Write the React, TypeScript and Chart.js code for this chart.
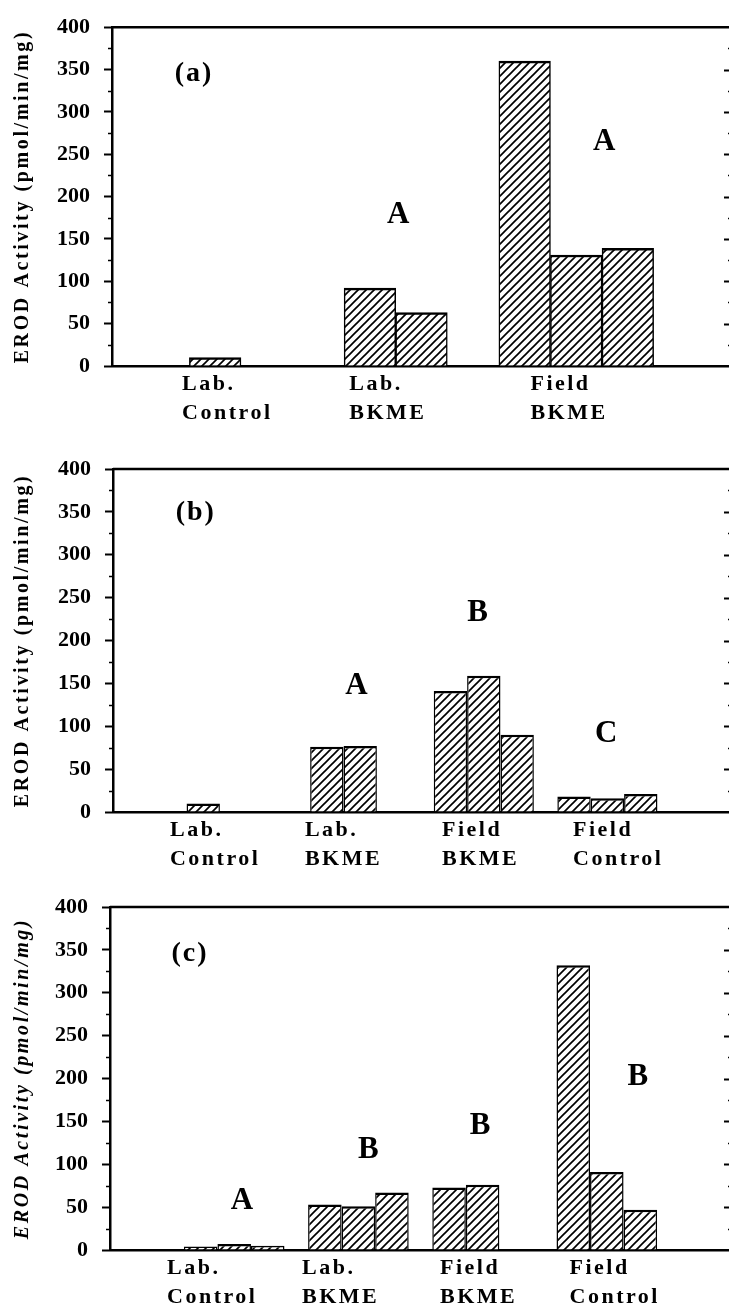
import React, { useEffect, useRef } from 'react';
import { Chart, registerables } from 'chart.js';

Chart.register(...registerables);

const FONT = "'Liberation Serif', 'Times New Roman', serif";
const Y_TITLE = 'EROD Activity (pmol/min/mg)';
const Y_MIN = 0;
const Y_MAX = 400;
const Y_STEP = 50;

// Panel (a)
const catsA: string[][] = [['Lab.', 'Control'], ['Lab.', 'BKME'], ['Field', 'BKME']];
const a1 = [10, 92, 360];
const a2 = [null, 63, 131];
const a3 = [null, null, 139];

// Panels (b) and (c)
const catsBC: string[][] = [['Lab.', 'Control'], ['Lab.', 'BKME'], ['Field', 'BKME'], ['Field', 'Control']];
const b1 = [10, 76, 141, 18];
const b2 = [null, 77, 159, 16];
const b3 = [null, null, 90, 21];

const c1 = [4, 53, 73, 332];
const c2 = [7, 51, 76, 91];
const c3 = [5, 67, null, 47];

// letter annotations: text, x in category units, y in data units
const notesA = [
  { t: '(a)', x: 0.53, y: 345 },
  { t: 'A', x: 1.85, y: 178 },
  { t: 'A', x: 3.18, y: 264 },
];
const notesB = [
  { t: '(b)', x: 0.67, y: 349 },
  { t: 'A', x: 1.97, y: 147 },
  { t: 'B', x: 2.95, y: 232 },
  { t: 'C', x: 3.99, y: 91 },
];
const notesC = [
  { t: '(c)', x: 0.644, y: 346 },
  { t: 'A', x: 1.063, y: 57 },
  { t: 'B', x: 2.08, y: 117 },
  { t: 'B', x: 2.98, y: 145 },
  { t: 'B', x: 4.25, y: 202 },
];

// left edge of category label text, in category units
const anchorsA = [0.453, 1.533, 2.704];
const anchorsB = [0.461, 1.553, 2.662, 3.722];
const anchorsC = [0.459, 1.546, 2.657, 3.7];

type Note = { t: string; x: number; y: number };
type PanelCfg = {
  id: string;
  top: number;
  height: number;
  padTop: number;
  padBottom: number;
  left: number;
  cats: string[][];
  series: (number | null)[][];
  catPct: number;
  anchors: number[];
  notes: Note[];
  italicTitle: boolean;
};

const PANELS: PanelCfg[] = [
  { id: 'a', top: 0, height: 440, padTop: 24, padBottom: 74, left: 112, cats: catsA, series: [a1, a2, a3], catPct: 1, anchors: anchorsA, notes: notesA, italicTitle: false },
  { id: 'b', top: 440, height: 430, padTop: 29, padBottom: 58, left: 113, cats: catsBC, series: [b1, b2, b3], catPct: 0.81, anchors: anchorsB, notes: notesB, italicTitle: false },
  { id: 'c', top: 870, height: 436, padTop: 37, padBottom: 56, left: 110, cats: catsBC, series: [c1, c2, c3], catPct: 0.81, anchors: anchorsC, notes: notesC, italicTitle: true },
];

const CANVAS_W = 731;

function makeHatch(): CanvasPattern | string {
  const w = 8;
  const h = 8;
  const c = document.createElement('canvas');
  c.width = w;
  c.height = h;
  const g = c.getContext('2d');
  if (!g) return '#fff';
  g.fillStyle = '#fff';
  g.fillRect(0, 0, w, h);
  g.strokeStyle = '#000';
  g.lineWidth = 1.7;
  for (const off of [-h, 0, h]) {
    g.beginPath();
    g.moveTo(-2, h + off + (2 * h) / w);
    g.lineTo(w + 2, off - (2 * h) / w);
    g.stroke();
  }
  const pat = g.createPattern(c, 'repeat');
  return pat || '#fff';
}

function makePlugin(p: PanelCfg) {
  return {
    id: 'frame_' + p.id,
    afterDraw(chart: any) {
      const { ctx, chartArea } = chart;
      const { left, right, top, bottom } = chartArea;
      const xs = chart.scales.x;
      const ys = chart.scales.y;
      ctx.save();
      ctx.strokeStyle = '#000';
      ctx.fillStyle = '#000';

      // frame: top and right
      ctx.lineWidth = 2.5;
      ctx.beginPath();
      ctx.moveTo(left, top);
      ctx.lineTo(chart.width + 4, top);
      ctx.moveTo(right, top);
      ctx.lineTo(right, bottom);
      ctx.stroke();

      // minor ticks left, ticks right
      for (let v = Y_MIN + Y_STEP / 2; v < Y_MAX; v += Y_STEP / 2) {
        const py = Math.round(ys.getPixelForValue(v)) + 0.5;
        const major = Math.abs(v % Y_STEP) < 1e-6;
        ctx.lineWidth = major ? 2 : 1.5;
        ctx.beginPath();
        if (!major) {
          ctx.moveTo(left - 4, py);
          ctx.lineTo(left, py);
        }
        ctx.moveTo(right - (major ? 7 : 3), py);
        ctx.lineTo(right, py);
        ctx.stroke();
      }

      // y title
      ctx.save();
      ctx.translate(23, (top + bottom) / 2);
      ctx.rotate(-Math.PI / 2);
      ctx.font = (p.italicTitle ? 'italic ' : '') + 'bold 20px ' + FONT;
      (ctx as any).letterSpacing = '2.6px';
      ctx.textAlign = 'center';
      ctx.textBaseline = 'middle';
      ctx.fillText(Y_TITLE, 0, 0);
      ctx.restore();

      // category labels
      ctx.font = 'bold 22px ' + FONT;
      (ctx as any).letterSpacing = '2.5px';
      ctx.textAlign = 'left';
      ctx.textBaseline = 'alphabetic';
      p.cats.forEach((lines, i) => {
        const px = xs.getPixelForValue(p.anchors[i]);
        ctx.fillText(lines[0], px, bottom + 24);
        ctx.fillText(lines[1], px, bottom + 53);
      });

      // letters
      ctx.textAlign = 'center';
      ctx.textBaseline = 'middle';
      p.notes.forEach((n) => {
        const isPanel = n.t.startsWith('(');
        ctx.font = 'bold ' + (isPanel ? 28 : 31) + 'px ' + FONT;
        (ctx as any).letterSpacing = isPanel ? '2px' : '0px';
        ctx.fillText(n.t, xs.getPixelForValue(n.x), ys.getPixelForValue(n.y));
      });
      (ctx as any).letterSpacing = '0px';
      ctx.restore();
    },
  };
}

function Panel({ p }: { p: PanelCfg }) {
  const ref = useRef<HTMLCanvasElement>(null);
  useEffect(() => {
    const canvas = ref.current;
    if (!canvas) return;
    const hatch = makeHatch();
    const labels = ['', ...p.cats.map((c) => c.join(' ')), ''];
    const datasets = p.series.map((s, k) => ({
      label: 'Replicate ' + (k + 1),
      data: [null, ...s, null],
      backgroundColor: hatch as any,
      borderColor: '#000',
      borderWidth: { top: 2.5, left: 1.5, right: 1.5, bottom: 0 },
      borderSkipped: 'start' as const,
      categoryPercentage: p.catPct,
      barPercentage: 1,
    }));
    const chart = new Chart(canvas, {
      type: 'bar',
      data: { labels, datasets },
      options: {
        animation: false,
        responsive: false,
        devicePixelRatio: 1,
        layout: { padding: { left: 0, right: 0, top: p.padTop, bottom: p.padBottom } },
        plugins: { legend: { display: false }, tooltip: { enabled: false } },
        scales: {
          x: {
            type: 'category',
            offset: false,
            grid: { display: true, drawOnChartArea: false, drawTicks: false, offset: false },
            ticks: { display: false },
            border: { display: true, color: '#000', width: 2.5 },
            afterFit: (s: any) => {
              s.height = 0;
            },
          },
          y: {
            min: Y_MIN,
            max: Y_MAX,
            ticks: {
              stepSize: Y_STEP,
              color: '#000',
              padding: 14,
              font: { family: FONT, size: 22, weight: 'bold' },
            },
            grid: {
              drawOnChartArea: false,
              drawTicks: true,
              tickLength: 8,
              tickWidth: 2,
              color: '#000',
            },
            border: { display: true, color: '#000', width: 2.5 },
            afterFit: (s: any) => {
              s.width = p.left;
            },
          },
        },
      },
      plugins: [makePlugin(p)],
    } as any);
    return () => chart.destroy();
  }, [p]);
  return (
    <canvas
      ref={ref}
      width={CANVAS_W}
      height={p.height}
      style={{ position: 'absolute', left: 0, top: p.top, width: CANVAS_W, height: p.height, display: 'block' }}
    />
  );
}

export default function App() {
  return (
    <div
      style={{
        position: 'absolute',
        left: 0,
        top: 0,
        width: 729,
        height: 1306,
        overflow: 'hidden',
        background: '#fff',
      }}
    >
      {PANELS.map((p) => (
        <Panel key={p.id} p={p} />
      ))}
    </div>
  );
}
